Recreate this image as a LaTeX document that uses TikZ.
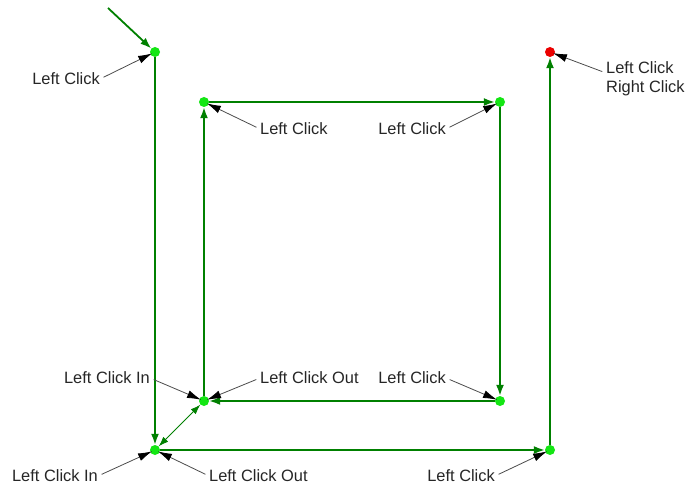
\documentclass[tikz,border=0pt]{standalone}
\usepackage{fontspec}
\setmainfont{Liberation Sans}
\usetikzlibrary{arrows.meta}
\definecolor{pathgreen}{RGB}{0,128,0}
\definecolor{dotgreen}{RGB}{20,230,20}
\definecolor{dotred}{RGB}{235,0,0}
\begin{document}
\begin{tikzpicture}[x=1pt,y=-1pt,
  pt/.style={circle,inner sep=0pt,minimum size=10pt,fill=dotgreen},
  endpt/.style={pt,fill=dotred},
  seg/.style={draw=pathgreen,line width=1.8pt,-{Latex[length=11pt,width=8pt]}},
  handle/.style={draw=pathgreen,line width=0.9pt,{Latex[length=10pt,width=7pt]}-{Latex[length=10pt,width=7pt]}},
  lbl/.style={inner sep=0pt,font=\fontsize{16.4}{19.5}\selectfont,text=black!85},
  callout/.style={draw=black!70,line width=0.8pt,-{Latex[length=14pt,width=8pt,fill=black,color=black]},shorten <=4pt,shorten >=-2pt}]
\useasboundingbox[fill=white] (0,0) rectangle (691,489);

% path points
\coordinate (S) at (108,8);
\node[pt] (A) at (155,52) {};
\node[pt] (B) at (155,450) {};
\node[pt] (C) at (204,401) {};
\node[pt] (D) at (204,102) {};
\node[pt] (E) at (500,102) {};
\node[pt] (F) at (500,401) {};
\node[pt] (G) at (550,450) {};
\node[endpt] (H) at (550,52) {};

% path segments
\draw[seg] (S) -- (A);
\draw[seg] (A) -- (B);
\draw[handle] (B) -- (C);
\draw[seg] (C) -- (D);
\draw[seg] (D) -- (E);
\draw[seg] (E) -- (F);
\draw[seg] (F) -- (C);
\draw[seg] (B) -- (G);
\draw[seg] (G) -- (H);

% labels
\node[lbl,anchor=east] (l1) at (100,79) {Left Click};
\node[lbl,anchor=west] (l2) at (260,129) {Left Click};
\node[lbl,anchor=east] (l3) at (446,129) {Left Click};
\node[lbl,anchor=west,align=left] (l4) at (606,79) {Left Click\\Right Click};
\node[lbl,anchor=east] (l5) at (150,378) {Left Click In};
\node[lbl,anchor=west] (l6) at (260,378) {Left Click Out};
\node[lbl,anchor=east] (l7) at (446,378) {Left Click};
\node[lbl,anchor=east] (l8) at (98,476) {Left Click In};
\node[lbl,anchor=west] (l9) at (209,476) {Left Click Out};
\node[lbl,anchor=east] (l10) at (495,476) {Left Click};

% callouts
\draw[callout] (l1.east) -- (A);
\draw[callout] (l2.west) -- (D);
\draw[callout] (l3.east) -- (E);
\draw[callout] ([yshift=6pt]l4.west) -- (H);
\draw[callout] (l5.east) -- (C);
\draw[callout] (l6.west) -- (C);
\draw[callout] (l7.east) -- (F);
\draw[callout] (l8.east) -- (B);
\draw[callout] (l9.west) -- (B);
\draw[callout] (l10.east) -- (G);
\end{tikzpicture}
\end{document}
